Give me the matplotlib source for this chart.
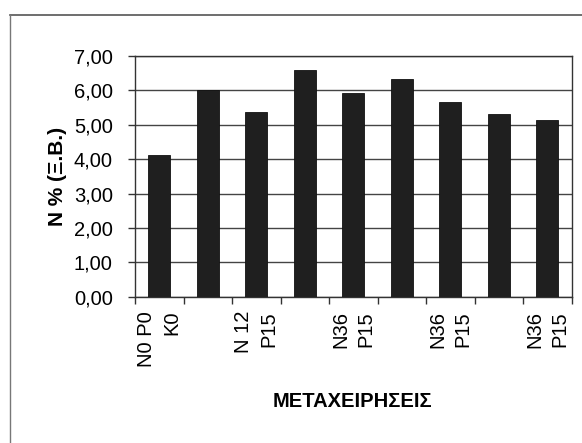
import numpy as np
import matplotlib
matplotlib.use("Agg")
import matplotlib.pyplot as plt
from matplotlib.lines import Line2D

plt.rcParams["font.family"] = ["Liberation Sans", "DejaVu Sans"]

# treatments (only every second label is printed on the original chart)
categories = ["N0 P0\nK0", "", "N 12\nP15", "", "N36\nP15", "", "N36\nP15", "", "N36\nP15"]
values = [4.12, 6.00, 5.35, 6.58, 5.92, 6.32, 5.66, 5.30, 5.13]
yticks = [0, 1, 2, 3, 4, 5, 6, 7]

fig = plt.figure(figsize=(5.82, 4.43), dpi=100)
ax = fig.add_axes([0.232, 0.3296, 0.75, 0.545])

x = np.arange(len(values))
ax.bar(x, values, width=0.45, color="#1f1f1f", edgecolor="#111111", linewidth=0.6, zorder=3)

ax.set_xlim(-0.5, len(values) - 0.5)
ax.set_ylim(0, 7)
ax.set_yticks(yticks)
ax.set_yticklabels(["{:.2f}".format(v).replace(".", ",") for v in yticks], fontsize=14.5)
ax.yaxis.grid(True, color="#444444", linewidth=1.0, zorder=0)
ax.tick_params(axis="y", direction="out", length=5, width=1, pad=11, color="#333333")

# tick marks between categories, labels under the bars
ax.set_xticks(np.arange(len(values) + 1) - 0.5)
ax.set_xticklabels([])
ax.tick_params(axis="x", which="major", direction="out", length=5, width=1, color="#333333")
ax.set_xticks(x, minor=True)
ax.set_xticklabels(categories, minor=True, rotation=90, fontsize=14.5,
                   ha="center", va="top", multialignment="right", linespacing=1.45)
ax.tick_params(axis="x", which="minor", length=0, pad=10)

for s in ax.spines.values():
    s.set_color("#333333")
    s.set_linewidth(1.0)

ax.set_ylabel("N % (Ξ.Β.)", fontsize=15, fontweight="bold", labelpad=5)
fig.text(0.606, 0.093, "ΜΕΤΑΧΕΙΡΗΣΕΙΣ", fontsize=14.5, fontweight="bold",
         ha="center", va="center")

# scanned frame around the chart
fig.add_artist(Line2D([0.017, 1.0], [0.966, 0.966], transform=fig.transFigure,
                      color="#555555", linewidth=1.2))
fig.add_artist(Line2D([0.017, 0.017], [0.0, 0.966], transform=fig.transFigure,
                      color="#777777", linewidth=1.0))

fig.savefig("out.png", dpi=100)
